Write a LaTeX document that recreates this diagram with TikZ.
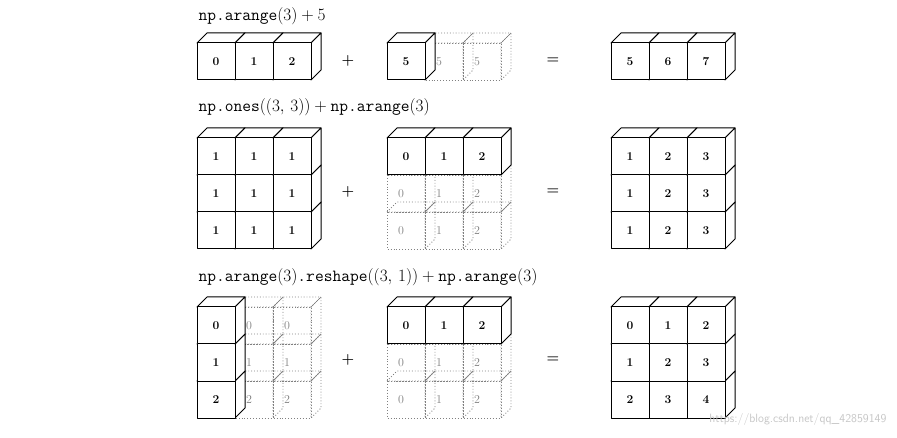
\documentclass[tikz,border=0pt]{standalone}
\begin{document}
\begin{tikzpicture}[x=1pt,y=-1pt,
  solid cube/.style={draw=black,line width=1pt,fill=white,line join=round},
  ghost cube/.style={draw=gray,dotted,line width=0.9pt},
  solid lab/.style={font=\fontsize{12}{14}\selectfont\bfseries,text=black},
  ghost lab/.style={font=\fontsize{12}{14}\selectfont,text=gray,xshift=-5pt},
  title/.style={anchor=base west,font=\fontsize{17}{20}\selectfont},
  op/.style={font=\Large\bfseries}]
\useasboundingbox (0,0) rectangle (897,438);
\newcommand\cb[4]{%
  \path[#4 cube] (#1,#2) -- ++(10,-10) -- ++(38,0) -- ++(-10,10) -- cycle;
  \path[#4 cube] (#1+38,#2) -- ++(10,-10) -- ++(0,37) -- ++(-10,10) -- cycle;
  \path[#4 cube] (#1,#2) rectangle ++(38,37);
  \node[#4 lab] at (#1+19,#2+18.5) {#3};}
% row 1
\node[title] (t1) at (195,21) {\texttt{np.arange}$(3)+5$};
\cb{197}{43}{0}{solid}\cb{235}{43}{1}{solid}\cb{273}{43}{2}{solid}
\node[op] (p1) at (348,61) {+};
\cb{463}{43}{5}{ghost}\cb{425}{43}{5}{ghost}\cb{387}{43}{5}{solid}
\node[op] (e1) at (553,61) {=};
\cb{611}{43}{5}{solid}\cb{649}{43}{6}{solid}\cb{687}{43}{7}{solid}
% row 2
\node[title] (t2) at (195,112) {\texttt{np.ones}$((3,\,3))+\texttt{np.arange}(3)$};
\foreach \r in {212,175,138}{
  \cb{197}{\r}{1}{solid}\cb{235}{\r}{1}{solid}\cb{273}{\r}{1}{solid}}
\node[op] (p2) at (348,192) {+};
\foreach \r in {212,175}{
  \cb{463}{\r}{2}{ghost}\cb{425}{\r}{1}{ghost}\cb{387}{\r}{0}{ghost}}
\cb{387}{138}{0}{solid}\cb{425}{138}{1}{solid}\cb{463}{138}{2}{solid}
\node[op] (e2) at (553,192) {=};
\foreach \r in {212,175,138}{
  \cb{611}{\r}{1}{solid}\cb{649}{\r}{2}{solid}\cb{687}{\r}{3}{solid}}
% row 3
\node[title] (t3) at (195,282) {\texttt{np.arange}$(3)$\texttt{.reshape}$((3,\,1))+\texttt{np.arange}(3)$};
\foreach \r/\v in {381/2,344/1,307/0}{
  \cb{273}{\r}{\v}{ghost}\cb{235}{\r}{\v}{ghost}}
\cb{197}{381}{2}{solid}\cb{197}{344}{1}{solid}\cb{197}{307}{0}{solid}
\node[op] (p3) at (348,360) {+};
\foreach \r in {381,344}{
  \cb{463}{\r}{2}{ghost}\cb{425}{\r}{1}{ghost}\cb{387}{\r}{0}{ghost}}
\cb{387}{307}{0}{solid}\cb{425}{307}{1}{solid}\cb{463}{307}{2}{solid}
\node[op] (e3) at (553,360) {=};
\cb{611}{381}{2}{solid}\cb{649}{381}{3}{solid}\cb{687}{381}{4}{solid}
\cb{611}{344}{1}{solid}\cb{649}{344}{2}{solid}\cb{687}{344}{3}{solid}
\cb{611}{307}{0}{solid}\cb{649}{307}{1}{solid}\cb{687}{307}{2}{solid}
\node[font=\sffamily\large,text=gray!45,anchor=east] (wm) at (890,419) {https://blog.csdn.net/qq\_42859149};
\end{tikzpicture}
\end{document}
